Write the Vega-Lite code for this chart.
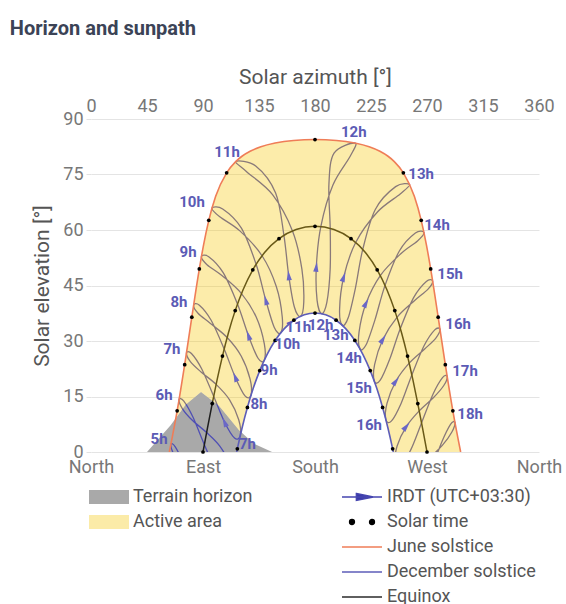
{
  "$schema": "https://vega.github.io/schema/vega-lite/v6.json",
  "width": 448,
  "height": 333,
  "padding": {"left": 9, "top": 19, "right": 5, "bottom": 0},
  "background": "white",
  "config": {"font": "Roboto", "view": {"stroke": null}},
  "title": {"text": "Horizon and sunpath", "anchor": "start", "frame": "bounds", "fontSize": 20, "fontWeight": "bold", "color": "#3b4356", "offset": 27, "dx": -22, "font": "Roboto"},
  "datasets": {
    "terrain": [
      {"az": 45, "el": 0, "region": "Terrain horizon"},
      {"az": 64, "el": 7.2, "region": "Terrain horizon"},
      {"az": 76, "el": 12.8, "region": "Terrain horizon"},
      {"az": 88.4, "el": 16.2, "region": "Terrain horizon"},
      {"az": 103, "el": 12.4, "region": "Terrain horizon"},
      {"az": 119, "el": 5.9, "region": "Terrain horizon"},
      {"az": 131, "el": 2.2, "region": "Terrain horizon"},
      {"az": 145.5, "el": 0, "region": "Terrain horizon"}
    ],
    "analemma": [
      {"hour": 5, "i": 1, "az": 106.54, "el": -19.7}, {"hour": 5, "i": 2, "az": 101.85, "el": -21.09}, {"hour": 5, "i": 3, "az": 92.97, "el": -17.73}, {"hour": 5, "i": 4, "az": 83.75, "el": -11.11}, {"hour": 5, "i": 5, "az": 74.73, "el": -3.4}, {"hour": 5, "i": 6, "az": 67.71, "el": 1.41}, {"hour": 5, "i": 7, "az": 64.23, "el": 2.1}, {"hour": 5, "i": 8, "az": 66.51, "el": -0.58}, {"hour": 5, "i": 9, "az": 74.24, "el": -4.25}, {"hour": 5, "i": 10, "az": 85.61, "el": -7.86}, {"hour": 5, "i": 11, "az": 96.4, "el": -11.33}, {"hour": 5, "i": 12, "az": 104.51, "el": -15.68},
      {"hour": 6, "i": 1, "az": 112.77, "el": -7.34}, {"hour": 6, "i": 2, "az": 108.26, "el": -8.42}, {"hour": 6, "i": 3, "az": 99.98, "el": -4.7}, {"hour": 6, "i": 4, "az": 91.1, "el": 1.99}, {"hour": 6, "i": 5, "az": 81.9, "el": 9.44}, {"hour": 6, "i": 6, "az": 74.44, "el": 13.82}, {"hour": 6, "i": 7, "az": 70.81, "el": 14.22}, {"hour": 6, "i": 8, "az": 73.38, "el": 11.74}, {"hour": 6, "i": 9, "az": 81.43, "el": 8.57}, {"hour": 6, "i": 10, "az": 92.92, "el": 5.25}, {"hour": 6, "i": 11, "az": 103.51, "el": 1.59}, {"hour": 6, "i": 12, "az": 111.15, "el": -3.19},
      {"hour": 7, "i": 1, "az": 119.93, "el": 4.42}, {"hour": 7, "i": 2, "az": 115.36, "el": 3.76}, {"hour": 7, "i": 3, "az": 107.37, "el": 8.04}, {"hour": 7, "i": 4, "az": 98.57, "el": 15.05}, {"hour": 7, "i": 5, "az": 88.9, "el": 22.51}, {"hour": 7, "i": 6, "az": 80.7, "el": 26.63}, {"hour": 7, "i": 7, "az": 76.74, "el": 26.82}, {"hour": 7, "i": 8, "az": 79.68, "el": 24.5}, {"hour": 7, "i": 9, "az": 88.42, "el": 21.63}, {"hour": 7, "i": 10, "az": 100.54, "el": 18.27}, {"hour": 7, "i": 11, "az": 111.36, "el": 14.1}, {"hour": 7, "i": 12, "az": 118.71, "el": 8.71},
      {"hour": 8, "i": 1, "az": 128.52, "el": 15.27}, {"hour": 8, "i": 2, "az": 123.75, "el": 15.18}, {"hour": 8, "i": 3, "az": 115.9, "el": 20.23}, {"hour": 8, "i": 4, "az": 107.02, "el": 27.84}, {"hour": 8, "i": 5, "az": 96.55, "el": 35.6}, {"hour": 8, "i": 6, "az": 87.09, "el": 39.67}, {"hour": 8, "i": 7, "az": 82.48, "el": 39.71}, {"hour": 8, "i": 8, "az": 86.0, "el": 37.5}, {"hour": 8, "i": 9, "az": 96.0, "el": 34.73}, {"hour": 8, "i": 10, "az": 109.41, "el": 30.94}, {"hour": 8, "i": 11, "az": 120.77, "el": 25.89}, {"hour": 8, "i": 12, "az": 127.85, "el": 19.68},
      {"hour": 9, "i": 1, "az": 139.15, "el": 24.75}, {"hour": 9, "i": 2, "az": 134.11, "el": 25.4}, {"hour": 9, "i": 3, "az": 126.51, "el": 31.47}, {"hour": 9, "i": 4, "az": 117.7, "el": 39.98}, {"hour": 9, "i": 5, "az": 106.2, "el": 48.46}, {"hour": 9, "i": 6, "az": 94.59, "el": 52.78}, {"hour": 9, "i": 7, "az": 88.73, "el": 52.79}, {"hour": 9, "i": 8, "az": 93.21, "el": 50.62}, {"hour": 9, "i": 9, "az": 105.45, "el": 47.62}, {"hour": 9, "i": 10, "az": 120.91, "el": 42.82}, {"hour": 9, "i": 11, "az": 132.84, "el": 36.42}, {"hour": 9, "i": 12, "az": 139.28, "el": 29.21},
      {"hour": 10, "i": 1, "az": 152.35, "el": 32.16}, {"hour": 10, "i": 2, "az": 147.2, "el": 33.74}, {"hour": 10, "i": 3, "az": 140.46, "el": 41.01}, {"hour": 10, "i": 4, "az": 132.69, "el": 50.73}, {"hour": 10, "i": 5, "az": 120.87, "el": 60.51}, {"hour": 10, "i": 6, "az": 105.82, "el": 65.69}, {"hour": 10, "i": 7, "az": 97.18, "el": 65.87}, {"hour": 10, "i": 8, "az": 103.46, "el": 63.58}, {"hour": 10, "i": 9, "az": 119.62, "el": 59.76}, {"hour": 10, "i": 10, "az": 137.44, "el": 53.04}, {"hour": 10, "i": 11, "az": 148.9, "el": 44.73}, {"hour": 10, "i": 12, "az": 153.68, "el": 36.49},
      {"hour": 11, "i": 1, "az": 168.15, "el": 36.62}, {"hour": 11, "i": 2, "az": 163.36, "el": 39.26}, {"hour": 11, "i": 3, "az": 158.89, "el": 47.68}, {"hour": 11, "i": 4, "az": 155.02, "el": 58.56}, {"hour": 11, "i": 5, "az": 148.36, "el": 70.01}, {"hour": 11, "i": 6, "az": 132.34, "el": 77.32}, {"hour": 11, "i": 7, "az": 116.33, "el": 78.51}, {"hour": 11, "i": 8, "az": 125.48, "el": 75.63}, {"hour": 11, "i": 9, "az": 145.88, "el": 69.54}, {"hour": 11, "i": 10, "az": 161.91, "el": 59.75}, {"hour": 11, "i": 11, "az": 169.47, "el": 49.44}, {"hour": 11, "i": 12, "az": 170.97, "el": 40.49},
      {"hour": 12, "i": 1, "az": 185.37, "el": 37.37}, {"hour": 12, "i": 2, "az": 181.68, "el": 40.98}, {"hour": 12, "i": 3, "az": 181.07, "el": 49.99}, {"hour": 12, "i": 4, "az": 184.68, "el": 60.92}, {"hour": 12, "i": 5, "az": 194.33, "el": 72.11}, {"hour": 12, "i": 6, "az": 208.39, "el": 79.99}, {"hour": 12, "i": 7, "az": 212.21, "el": 83.49}, {"hour": 12, "i": 8, "az": 195.3, "el": 80.8}, {"hour": 12, "i": 9, "az": 191.18, "el": 72.31}, {"hour": 12, "i": 10, "az": 192.23, "el": 60.43}, {"hour": 12, "i": 11, "az": 192.16, "el": 49.25}, {"hour": 12, "i": 12, "az": 189.52, "el": 40.44},
      {"hour": 13, "i": 1, "az": 201.92, "el": 34.25}, {"hour": 13, "i": 2, "az": 199.76, "el": 38.52}, {"hour": 13, "i": 3, "az": 203.03, "el": 47.23}, {"hour": 13, "i": 4, "az": 212.68, "el": 56.63}, {"hour": 13, "i": 5, "az": 230.18, "el": 64.88}, {"hour": 13, "i": 6, "az": 248.46, "el": 69.74}, {"hour": 13, "i": 7, "az": 256.07, "el": 72.28}, {"hour": 13, "i": 8, "az": 244.8, "el": 71.72}, {"hour": 13, "i": 9, "az": 228.46, "el": 65.54}, {"hour": 13, "i": 10, "az": 218.37, "el": 54.74}, {"hour": 13, "i": 11, "az": 212.44, "el": 44.23}, {"hour": 13, "i": 12, "az": 206.75, "el": 36.33},
      {"hour": 14, "i": 1, "az": 216.16, "el": 27.86}, {"hour": 14, "i": 2, "az": 215.39, "el": 32.41}, {"hour": 14, "i": 3, "az": 221.02, "el": 40.22}, {"hour": 14, "i": 4, "az": 232.49, "el": 47.69}, {"hour": 14, "i": 5, "az": 248.73, "el": 53.51}, {"hour": 14, "i": 6, "az": 262.38, "el": 57.04}, {"hour": 14, "i": 7, "az": 267.55, "el": 59.3}, {"hour": 14, "i": 8, "az": 260.67, "el": 59.18}, {"hour": 14, "i": 9, "az": 247.79, "el": 54.33}, {"hour": 14, "i": 10, "az": 236.29, "el": 45.04}, {"hour": 14, "i": 11, "az": 228.17, "el": 35.7}, {"hour": 14, "i": 12, "az": 221.06, "el": 28.98},
      {"hour": 15, "i": 1, "az": 227.72, "el": 19.07}, {"hour": 15, "i": 2, "az": 227.93, "el": 23.67}, {"hour": 15, "i": 3, "az": 234.6, "el": 30.47}, {"hour": 15, "i": 4, "az": 245.88, "el": 36.4}, {"hour": 15, "i": 5, "az": 259.88, "el": 40.88}, {"hour": 15, "i": 6, "az": 270.65, "el": 43.95}, {"hour": 15, "i": 7, "az": 274.54, "el": 46.2}, {"hour": 15, "i": 8, "az": 269.46, "el": 46.11}, {"hour": 15, "i": 9, "az": 259.25, "el": 41.74}, {"hour": 15, "i": 10, "az": 248.57, "el": 33.39}, {"hour": 15, "i": 11, "az": 240.0, "el": 25.06}, {"hour": 15, "i": 12, "az": 232.42, "el": 19.4},
      {"hour": 16, "i": 1, "az": 237.0, "el": 8.67}, {"hour": 16, "i": 2, "az": 237.89, "el": 13.19}, {"hour": 16, "i": 3, "az": 244.97, "el": 19.13}, {"hour": 16, "i": 4, "az": 255.7, "el": 24.01}, {"hour": 16, "i": 5, "az": 268.12, "el": 27.84}, {"hour": 16, "i": 6, "az": 277.26, "el": 30.87}, {"hour": 16, "i": 7, "az": 280.42, "el": 33.19}, {"hour": 16, "i": 8, "az": 276.22, "el": 33.02}, {"hour": 16, "i": 9, "az": 267.62, "el": 28.72}, {"hour": 16, "i": 10, "az": 257.82, "el": 20.84}, {"hour": 16, "i": 11, "az": 249.26, "el": 13.2}, {"hour": 16, "i": 12, "az": 241.5, "el": 8.4},
      {"hour": 17, "i": 1, "az": 244.64, "el": -2.79}, {"hour": 17, "i": 2, "az": 245.99, "el": 1.61}, {"hour": 17, "i": 3, "az": 253.35, "el": 6.87}, {"hour": 17, "i": 4, "az": 263.75, "el": 11.11}, {"hour": 17, "i": 5, "az": 275.28, "el": 14.73}, {"hour": 17, "i": 6, "az": 283.49, "el": 17.97}, {"hour": 17, "i": 7, "az": 286.19, "el": 20.43}, {"hour": 17, "i": 8, "az": 282.46, "el": 20.08}, {"hour": 17, "i": 9, "az": 274.81, "el": 15.61}, {"hour": 17, "i": 10, "az": 265.61, "el": 7.86}, {"hour": 17, "i": 11, "az": 257.03, "el": 0.65}, {"hour": 17, "i": 12, "az": 249.04, "el": -3.52},
      {"hour": 18, "i": 1, "az": 251.17, "el": -14.95}, {"hour": 18, "i": 2, "az": 252.93, "el": -10.67}, {"hour": 18, "i": 3, "az": 260.68, "el": -5.91}, {"hour": 18, "i": 4, "az": 271.1, "el": -1.99}, {"hour": 18, "i": 5, "az": 282.29, "el": 1.78}, {"hour": 18, "i": 6, "az": 290.0, "el": 5.41}, {"hour": 18, "i": 7, "az": 292.39, "el": 8.05}, {"hour": 18, "i": 8, "az": 288.89, "el": 7.45}, {"hour": 18, "i": 9, "az": 281.81, "el": 2.63}, {"hour": 18, "i": 10, "az": 272.92, "el": -5.25}, {"hour": 18, "i": 11, "az": 264.11, "el": -12.28}, {"hour": 18, "i": 12, "az": 255.66, "el": -16.02}
    ],
    "curves": [
      {"kind": "June solstice", "az": 62.95, "el": 0}, {"kind": "June solstice", "az": 69.23, "el": 11.12}, {"kind": "June solstice", "az": 75.28, "el": 23.61}, {"kind": "June solstice", "az": 81.02, "el": 36.45}, {"kind": "June solstice", "az": 87.05, "el": 49.49}, {"kind": "June solstice", "az": 90.51, "el": 56.05}, {"kind": "June solstice", "az": 94.65, "el": 62.61}, {"kind": "June solstice", "az": 100.18, "el": 69.09}, {"kind": "June solstice", "az": 109.0, "el": 75.46}, {"kind": "June solstice", "az": 116.27, "el": 78.49}, {"kind": "June solstice", "az": 121.32, "el": 79.93}, {"kind": "June solstice", "az": 127.86, "el": 81.28}, {"kind": "June solstice", "az": 136.49, "el": 82.49}, {"kind": "June solstice", "az": 147.98, "el": 83.5}, {"kind": "June solstice", "az": 162.74, "el": 84.2}, {"kind": "June solstice", "az": 180, "el": 84.44}, {"kind": "June solstice", "az": 197.26, "el": 84.2}, {"kind": "June solstice", "az": 212.02, "el": 83.5}, {"kind": "June solstice", "az": 223.51, "el": 82.49}, {"kind": "June solstice", "az": 232.14, "el": 81.28}, {"kind": "June solstice", "az": 238.68, "el": 79.93}, {"kind": "June solstice", "az": 243.73, "el": 78.49}, {"kind": "June solstice", "az": 251.0, "el": 75.46}, {"kind": "June solstice", "az": 259.82, "el": 69.09}, {"kind": "June solstice", "az": 265.35, "el": 62.61}, {"kind": "June solstice", "az": 269.49, "el": 56.05}, {"kind": "June solstice", "az": 272.95, "el": 49.49}, {"kind": "June solstice", "az": 278.98, "el": 36.45}, {"kind": "June solstice", "az": 284.72, "el": 23.61}, {"kind": "June solstice", "az": 290.77, "el": 11.12}, {"kind": "June solstice", "az": 297.05, "el": 0},
      {"kind": "December solstice", "az": 117.05, "el": 0}, {"kind": "December solstice", "az": 117.59, "el": 0.85}, {"kind": "December solstice", "az": 121.44, "el": 6.56}, {"kind": "December solstice", "az": 125.67, "el": 12.03}, {"kind": "December solstice", "az": 130.36, "el": 17.2}, {"kind": "December solstice", "az": 135.6, "el": 22}, {"kind": "December solstice", "az": 141.45, "el": 26.34}, {"kind": "December solstice", "az": 147.97, "el": 30.14}, {"kind": "December solstice", "az": 155.17, "el": 33.27}, {"kind": "December solstice", "az": 163.02, "el": 35.61}, {"kind": "December solstice", "az": 171.37, "el": 37.07}, {"kind": "December solstice", "az": 180, "el": 37.56}, {"kind": "December solstice", "az": 188.63, "el": 37.07}, {"kind": "December solstice", "az": 196.98, "el": 35.61}, {"kind": "December solstice", "az": 204.83, "el": 33.27}, {"kind": "December solstice", "az": 212.03, "el": 30.14}, {"kind": "December solstice", "az": 218.55, "el": 26.34}, {"kind": "December solstice", "az": 224.4, "el": 22}, {"kind": "December solstice", "az": 229.64, "el": 17.2}, {"kind": "December solstice", "az": 234.33, "el": 12.03}, {"kind": "December solstice", "az": 238.56, "el": 6.56}, {"kind": "December solstice", "az": 242.41, "el": 0.85}, {"kind": "December solstice", "az": 242.95, "el": 0},
      {"kind": "Equinox", "az": 90, "el": 0}, {"kind": "Equinox", "az": 93.65, "el": 6.56}, {"kind": "Equinox", "az": 97.4, "el": 13.08}, {"kind": "Equinox", "az": 101.36, "el": 19.55}, {"kind": "Equinox", "az": 105.64, "el": 25.93}, {"kind": "Equinox", "az": 110.4, "el": 32.17}, {"kind": "Equinox", "az": 115.87, "el": 38.21}, {"kind": "Equinox", "az": 122.29, "el": 43.94}, {"kind": "Equinox", "az": 130.02, "el": 49.24}, {"kind": "Equinox", "az": 139.49, "el": 53.91}, {"kind": "Equinox", "az": 151.07, "el": 57.65}, {"kind": "Equinox", "az": 164.81, "el": 60.13}, {"kind": "Equinox", "az": 180, "el": 61}, {"kind": "Equinox", "az": 195.19, "el": 60.13}, {"kind": "Equinox", "az": 208.93, "el": 57.65}, {"kind": "Equinox", "az": 220.51, "el": 53.91}, {"kind": "Equinox", "az": 229.98, "el": 49.24}, {"kind": "Equinox", "az": 237.71, "el": 43.94}, {"kind": "Equinox", "az": 244.13, "el": 38.21}, {"kind": "Equinox", "az": 249.6, "el": 32.17}, {"kind": "Equinox", "az": 254.36, "el": 25.93}, {"kind": "Equinox", "az": 258.64, "el": 19.55}, {"kind": "Equinox", "az": 262.6, "el": 13.08}, {"kind": "Equinox", "az": 266.35, "el": 6.56}, {"kind": "Equinox", "az": 270, "el": 0}
    ],
    "active": [
      {"i": 0, "az": 68.2, "el": 9.2}, {"i": 1, "az": 69.23, "el": 11.12}, {"i": 2, "az": 75.28, "el": 23.61}, {"i": 3, "az": 81.02, "el": 36.45}, {"i": 4, "az": 87.05, "el": 49.49}, {"i": 5, "az": 90.51, "el": 56.05}, {"i": 6, "az": 94.65, "el": 62.61}, {"i": 7, "az": 100.18, "el": 69.09}, {"i": 8, "az": 109.0, "el": 75.46}, {"i": 9, "az": 116.27, "el": 78.49}, {"i": 10, "az": 121.32, "el": 79.93}, {"i": 11, "az": 127.86, "el": 81.28}, {"i": 12, "az": 136.49, "el": 82.49}, {"i": 13, "az": 147.98, "el": 83.5}, {"i": 14, "az": 162.74, "el": 84.2}, {"i": 15, "az": 180, "el": 84.44}, {"i": 16, "az": 197.26, "el": 84.2}, {"i": 17, "az": 212.02, "el": 83.5}, {"i": 18, "az": 223.51, "el": 82.49}, {"i": 19, "az": 232.14, "el": 81.28}, {"i": 20, "az": 238.68, "el": 79.93}, {"i": 21, "az": 243.73, "el": 78.49}, {"i": 22, "az": 251.0, "el": 75.46}, {"i": 23, "az": 259.82, "el": 69.09}, {"i": 24, "az": 265.35, "el": 62.61}, {"i": 25, "az": 269.49, "el": 56.05}, {"i": 26, "az": 272.95, "el": 49.49}, {"i": 27, "az": 278.98, "el": 36.45}, {"i": 28, "az": 284.72, "el": 23.61}, {"i": 29, "az": 290.77, "el": 11.12}, {"i": 30, "az": 297.05, "el": 0},
      {"i": 31, "az": 242.95, "el": 0}, {"i": 32, "az": 242.41, "el": 0.85}, {"i": 33, "az": 238.56, "el": 6.56}, {"i": 34, "az": 234.33, "el": 12.03}, {"i": 35, "az": 229.64, "el": 17.2}, {"i": 36, "az": 224.4, "el": 22}, {"i": 37, "az": 218.55, "el": 26.34}, {"i": 38, "az": 212.03, "el": 30.14}, {"i": 39, "az": 204.83, "el": 33.27}, {"i": 40, "az": 196.98, "el": 35.61}, {"i": 41, "az": 188.63, "el": 37.07}, {"i": 42, "az": 180, "el": 37.56}, {"i": 43, "az": 171.37, "el": 37.07}, {"i": 44, "az": 163.02, "el": 35.61}, {"i": 45, "az": 155.17, "el": 33.27}, {"i": 46, "az": 147.97, "el": 30.14}, {"i": 47, "az": 141.45, "el": 26.34}, {"i": 48, "az": 135.6, "el": 22}, {"i": 49, "az": 130.36, "el": 17.2}, {"i": 50, "az": 125.67, "el": 12.03}, {"i": 51, "az": 121.44, "el": 6.56}, {"i": 52, "az": 120.65, "el": 5.39},
      {"i": 53, "az": 119, "el": 5.9}, {"i": 54, "az": 103, "el": 12.4}, {"i": 55, "az": 88.4, "el": 16.2}, {"i": 56, "az": 76, "el": 12.8}
    ],
    "dots": [
      {"az": 69.23, "el": 11.12}, {"az": 75.28, "el": 23.61}, {"az": 81.02, "el": 36.45}, {"az": 87.05, "el": 49.49}, {"az": 94.65, "el": 62.61}, {"az": 109, "el": 75.46}, {"az": 180, "el": 84.44}, {"az": 251, "el": 75.46}, {"az": 265.35, "el": 62.61}, {"az": 272.95, "el": 49.49}, {"az": 278.98, "el": 36.45}, {"az": 284.72, "el": 23.61}, {"az": 290.77, "el": 11.12},
      {"az": 117.59, "el": 0.85}, {"az": 125.67, "el": 12.03}, {"az": 135.6, "el": 22}, {"az": 147.97, "el": 30.14}, {"az": 163.02, "el": 35.61}, {"az": 180, "el": 37.56}, {"az": 196.98, "el": 35.61}, {"az": 212.03, "el": 30.14}, {"az": 224.4, "el": 22}, {"az": 234.33, "el": 12.03}, {"az": 242.41, "el": 0.85},
      {"az": 90, "el": 0}, {"az": 97.4, "el": 13.08}, {"az": 105.64, "el": 25.93}, {"az": 115.87, "el": 38.21}, {"az": 130.02, "el": 49.24}, {"az": 151.07, "el": 57.65}, {"az": 180, "el": 61}, {"az": 208.93, "el": 57.65}, {"az": 229.98, "el": 49.24}, {"az": 244.13, "el": 38.21}, {"az": 254.36, "el": 25.93}, {"az": 262.6, "el": 13.08}, {"az": 270, "el": 0}
    ],
    "arrows": [
      {"az": 107.37, "el": 8.04, "heading": 337.1}, {"az": 115.9, "el": 20.23, "heading": 338.6}, {"az": 126.51, "el": 31.47, "heading": 340.8}, {"az": 140.46, "el": 41.01, "heading": 345.0}, {"az": 158.89, "el": 47.68, "heading": 353.2}, {"az": 181.07, "el": 49.99, "heading": 6.3}, {"az": 203.03, "el": 47.23, "heading": 19.0}, {"az": 221.02, "el": 40.22, "heading": 27.3}, {"az": 234.6, "el": 30.47, "heading": 32.6}, {"az": 244.97, "el": 19.13, "heading": 36.5}, {"az": 253.35, "el": 6.87, "heading": 39.5}
    ],
    "labels": [
      {"label": "5h", "az": 54.7, "el": 3.5}, {"label": "6h", "az": 58.7, "el": 15.4}, {"label": "7h", "az": 65.1, "el": 27.8}, {"label": "8h", "az": 70.7, "el": 40.5}, {"label": "9h", "az": 78.0, "el": 54.1}, {"label": "10h", "az": 81.2, "el": 67.6}, {"label": "11h", "az": 109.3, "el": 81.1}, {"label": "12h", "az": 211.2, "el": 86.5}, {"label": "13h", "az": 265.3, "el": 75.1}, {"label": "14h", "az": 278.1, "el": 61.4}, {"label": "15h", "az": 288.6, "el": 48.1}, {"label": "16h", "az": 295.0, "el": 34.6}, {"label": "17h", "az": 300.6, "el": 21.9}, {"label": "18h", "az": 304.7, "el": 10.3},
      {"label": "7h", "az": 125.7, "el": 2.2}, {"label": "8h", "az": 135.0, "el": 13.1}, {"label": "9h", "az": 143.1, "el": 22.1}, {"label": "10h", "az": 157.8, "el": 29.3}, {"label": "11h", "az": 166.6, "el": 33.8}, {"label": "12h", "az": 184.6, "el": 34.4}, {"label": "13h", "az": 196.7, "el": 31.5}, {"label": "14h", "az": 207.4, "el": 25.4}, {"label": "15h", "az": 215.4, "el": 17.3}, {"label": "16h", "az": 223.5, "el": 7.2}
    ]
  },
  "layer": [
    {
      "data": {"name": "terrain"},
      "mark": {"type": "area", "clip": true, "opacity": 1},
      "encoding": {
        "x": {"field": "az", "type": "quantitative", "scale": {"domain": [0, 360], "nice": false, "zero": false},
          "axis": {"orient": "top", "values": [0, 45, 90, 135, 180, 225, 270, 315, 360], "title": "Solar azimuth [°]", "titleFontSize": 21, "titleFontWeight": "normal", "titleColor": "#555555", "titlePadding": 10, "labelFontSize": 18, "labelColor": "#777777", "labelPadding": 4, "ticks": false, "domain": false, "grid": false, "labelFlush": false, "labelOverlap": false}},
        "y": {"field": "el", "type": "quantitative", "scale": {"domain": [0, 90], "nice": false, "zero": false},
          "axis": {"values": [0, 15, 30, 45, 60, 75, 90], "title": "Solar elevation [°]", "titleFontSize": 21, "titleFontWeight": "normal", "titleColor": "#555555", "titlePadding": 10, "labelFontSize": 18, "labelColor": "#777777", "labelPadding": 3, "tickSize": 5, "tickColor": "#e2e2e2", "domain": false, "grid": true, "gridColor": "#e4e4e4", "labelFlush": false}},
        "color": {"field": "region", "type": "nominal",
          "scale": {"domain": ["Terrain horizon", "Active area"], "range": ["#a9a9a9", "#fbeba8"]},
          "legend": {"orient": "none", "legendX": -2, "legendY": 369, "direction": "vertical", "title": null, "symbolType": "M-1,-0.35H1V0.35H-1Z", "symbolSize": 1600, "symbolStrokeWidth": 0, "symbolOpacity": 1, "labelFontSize": 18, "labelColor": "#555555", "labelFont": "Roboto", "labelOffset": 4, "clipHeight": 18, "rowPadding": 7, "padding": 0}}
      }
    },
    {
      "encoding": {
        "x": {"field": "az", "type": "quantitative", "scale": {"domain": [0, 360], "nice": false, "zero": false},
          "axis": {"orient": "bottom", "values": [0, 90, 180, 270, 360], "labelExpr": "['North','East','South','West','North'][round(datum.value/90)]", "title": null, "ticks": false, "domain": false, "grid": false, "labelFontSize": 18, "labelColor": "#777777", "labelPadding": 6, "labelFlush": false, "labelOverlap": false}},
        "y": {"field": "el", "type": "quantitative", "scale": {"domain": [0, 90], "nice": false, "zero": false}, "axis": null}
      },
      "layer": [
        {
          "data": {"name": "analemma"},
          "mark": {"type": "line", "clip": true, "interpolate": "cardinal-closed", "strokeWidth": 1.3, "stroke": "#4f4fb4"},
          "encoding": {"detail": {"field": "hour", "type": "nominal"}, "order": {"field": "i", "type": "quantitative"}}
        },
        {
          "data": {"name": "curves"},
          "transform": [{"filter": "datum.kind === 'Equinox'"}],
          "mark": {"type": "line", "clip": true, "interpolate": "monotone", "strokeWidth": 1.5, "stroke": "#1e1e1e"},
          "encoding": {}
        },
        {
          "data": {"name": "active"},
          "mark": {"type": "line", "interpolate": "linear-closed", "fill": "#f6c90c", "fillOpacity": 0.35, "stroke": "transparent", "strokeWidth": 0},
          "encoding": {"order": {"field": "i", "type": "quantitative"}}
        },
        {
          "data": {"name": "curves"},
          "transform": [{"filter": "datum.kind !== 'Equinox'"}],
          "mark": {"type": "line", "clip": true, "interpolate": "monotone", "strokeWidth": 1.6},
          "encoding": {
            "stroke": {"field": "kind", "type": "nominal",
              "scale": {"domain": ["IRDT (UTC+03:30)", "Solar time", "June solstice", "December solstice", "Equinox"], "range": ["#4646b0", "#000000", "#ef7d57", "#5d5db8", "#2a2a2a"]},
              "legend": {"orient": "none", "legendX": 250, "legendY": 369, "direction": "vertical", "title": null, "symbolSize": 1600, "symbolStrokeWidth": 1.5, "labelFontSize": 18, "labelColor": "#555555", "labelFont": "Roboto", "labelOffset": 4, "clipHeight": 18, "rowPadding": 7, "padding": 0,
                "encode": {"symbols": {"update": {
                  "shape": {"signal": "datum.value === 'Solar time' ? 'M-0.62,0A0.12,0.12,0,1,0,-0.38,0A0.12,0.12,0,1,0,-0.62,0ZM0.38,0A0.12,0.12,0,1,0,0.62,0A0.12,0.12,0,1,0,0.38,0Z' : (datum.value === 'IRDT (UTC+03:30)' ? 'M-1,0H1M-0.28,-0.17L0.57,0L-0.28,0.17Z' : 'M-1,0H1')"},
                  "fill": {"signal": "datum.value === 'Solar time' ? '#000000' : (datum.value === 'IRDT (UTC+03:30)' ? '#3a3aa8' : 'transparent')"},
                  "stroke": {"signal": "datum.value === 'Solar time' ? 'transparent' : (datum.value === 'IRDT (UTC+03:30)' ? '#4646b0' : (datum.value === 'June solstice' ? '#ef7d57' : (datum.value === 'December solstice' ? '#5d5db8' : '#2a2a2a')))"},
                  "opacity": {"value": 1}
                }}}}
            }
          }
        },
        {
          "data": {"name": "dots"},
          "mark": {"type": "point", "filled": true, "color": "#000000", "size": 14, "opacity": 1},
          "encoding": {}
        },
        {
          "data": {"name": "arrows"},
          "mark": {"type": "point", "filled": true, "shape": "M0,-1L0.5,0.9L-0.5,0.9Z", "size": 110, "color": "#6a67c6", "opacity": 1},
          "encoding": {"angle": {"field": "heading", "type": "quantitative", "scale": {"domain": [0, 360], "range": [0, 360]}, "legend": null}}
        },
        {
          "data": {"name": "labels"},
          "mark": {"type": "text", "fontSize": 15, "fontWeight": "bold", "color": "#5b5bb5", "font": "Roboto"},
          "encoding": {"text": {"field": "label", "type": "nominal"}}
        }
      ]
    }
  ],
  "resolve": {"axis": {"x": "independent", "y": "independent"}}
}
